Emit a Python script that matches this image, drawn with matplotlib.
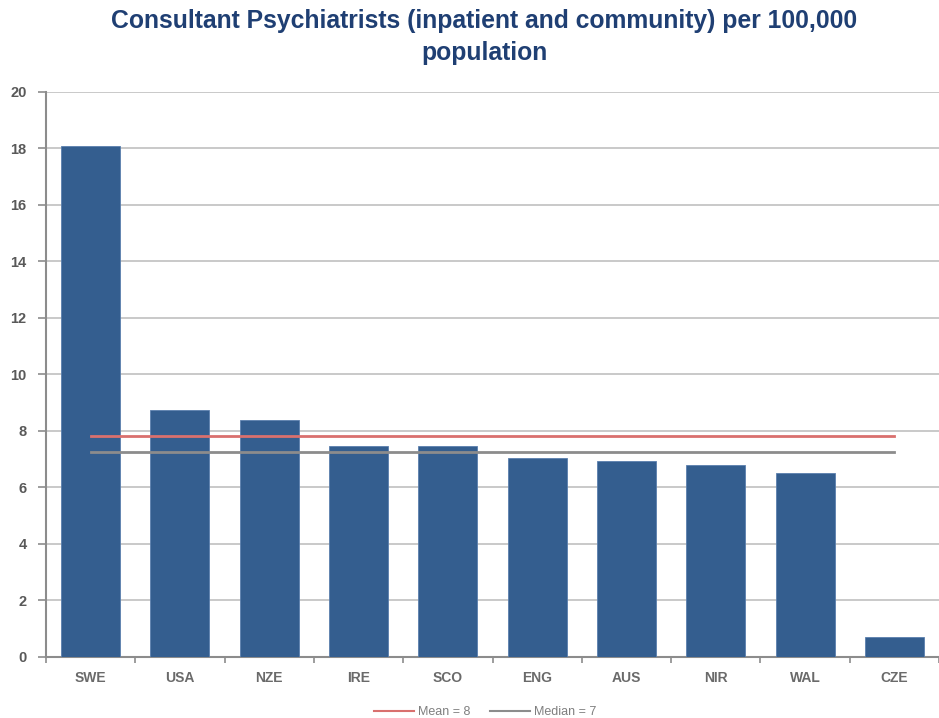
import matplotlib
matplotlib.use("Agg")
import matplotlib.pyplot as plt
import numpy as np

categories = ["SWE", "USA", "NZE", "IRE", "SCO", "ENG", "AUS", "NIR", "WAL", "CZE"]
values = [18.1, 8.75, 8.4, 7.48, 7.48, 7.05, 6.95, 6.8, 6.5, 0.72]
mean_value = 7.82
median_value = 7.26
mean_label = "Mean = 8"
median_label = "Median = 7"
title = "Consultant Psychiatrists (inpatient and community) per 100,000\npopulation"

plt.rcParams['font.family'] = ['Liberation Sans', 'DejaVu Sans']

fig = plt.figure(figsize=(9.39, 7.18), dpi=100)
ax = fig.add_axes([0.049, 0.085, 0.951, 0.787])

x = np.arange(len(categories))
ax.bar(x, values, width=0.66, color="#345E8F", edgecolor="#5A7FAE", linewidth=0.6, zorder=3)
ax.plot([x[0], x[-1]], [mean_value]*2, color="#D9706E", linewidth=2, label=mean_label, zorder=4)
ax.plot([x[0], x[-1]], [median_value]*2, color="#8C8C8C", linewidth=2, label=median_label, zorder=4)

ax.set_xlim(-0.5, len(categories) - 0.5)
ax.set_ylim(0, 20)
ax.set_yticks(np.arange(0, 21, 2))
ax.yaxis.grid(True, color="#C0C0C0", linewidth=1.2, zorder=0)
ax.set_axisbelow(True)

ax.set_xticks(x)
ax.set_xticklabels(categories)
ax.set_xticks(np.arange(-0.5, len(categories), 1), minor=True)
ax.tick_params(axis='x', which='major', length=0, pad=10, labelsize=10, labelcolor="#6A6A6A")
ax.tick_params(axis='x', which='minor', length=4, color="#8C8C8C", width=1.2, direction='out')
ax.tick_params(axis='y', length=6, color="#8C8C8C", width=1.2, labelsize=10.5, labelcolor="#595959", pad=8)
for lbl in ax.get_yticklabels() + ax.get_xticklabels():
    lbl.set_fontweight('bold')

for s in ["top", "right"]:
    ax.spines[s].set_visible(False)
for s in ["left", "bottom"]:
    ax.spines[s].set_color("#8C8C8C")
    ax.spines[s].set_linewidth(1.5)

fig.text(0.516, 0.988, title, ha='center', va='top', fontsize=17.8, fontweight='bold',
         color="#1F3F73", linespacing=1.45)

leg = fig.legend(loc='lower center', bbox_to_anchor=(0.517, -0.016), ncol=2, frameon=False,
                 fontsize=9, handlelength=3.2, columnspacing=1.6, handletextpad=0.3)
for line in leg.get_lines():
    line.set_linewidth(1.5)
for t in leg.get_texts():
    t.set_color("#7F7F7F")

fig.savefig("out.png", dpi=100)
